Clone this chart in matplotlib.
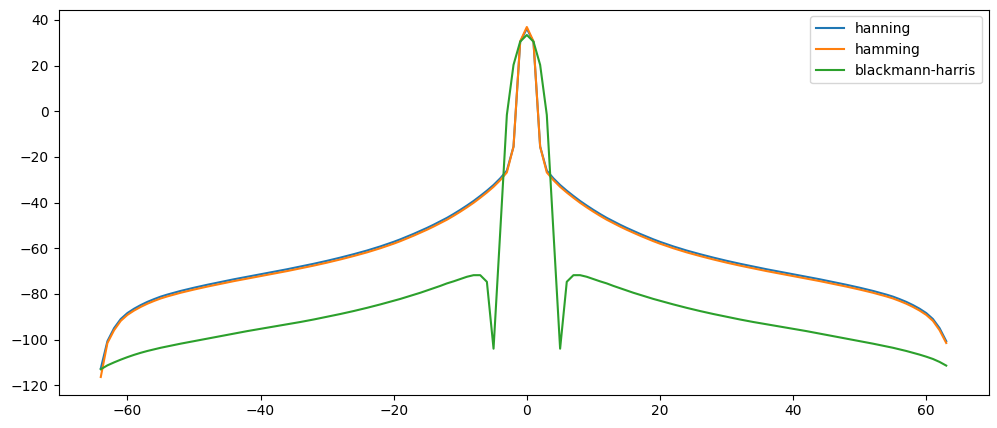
import matplotlib
matplotlib.use("Agg")
import matplotlib.pyplot as plt

# ── Data (dB vs frequency bin) ───────────────────────────────────────────────
bins = [-64, -63, -62, -61, -60, -59, -58, -57, -56, -55, -54, -53, -52,
        -50, -48, -46, -44, -42, -40, -38, -36, -34, -32, -30, -28, -26, -24, -22,
        -20, -19, -18, -17, -16, -15, -14, -13, -12, -11, -10, -9, -8, -7, -6,
        -5, -4, -3, -2, -1,
        0, 1, 2, 3, 4, 5, 6, 7, 8, 9, 10, 11, 12, 13, 14, 15, 16, 17, 18, 19, 20,
        22, 24, 26, 28, 30, 32, 34, 36, 38, 40, 42, 44, 46, 48, 50,
        52, 53, 54, 55, 56, 57, 58, 59, 60, 61, 62, 63]

hanning = [-112.7, -100.7, -95.0, -91.0, -88.4, -86.5, -84.9, -83.5, -82.3, -81.2, -80.3, -79.5, -78.7,
           -77.3, -76.0, -74.8, -73.6, -72.5, -71.4, -70.3, -69.2, -68.0, -66.8, -65.5, -64.1, -62.6, -61.0, -59.2,
           -57.2, -56.1, -54.9, -53.7, -52.4, -51.1, -49.7, -48.2, -46.7, -45.0, -43.2, -41.3, -39.3, -37.1, -34.8,
           -32.3, -29.4, -26.0, -15.5, 30.3,
           36.2, 30.3, -15.5, -26.0, -29.4, -32.3, -34.8, -37.1, -39.3, -41.3, -43.2, -45.0, -46.7, -48.2, -49.7,
           -51.1, -52.4, -53.7, -54.9, -56.1, -57.2,
           -59.2, -61.0, -62.6, -64.1, -65.5, -66.8, -68.0, -69.2, -70.3, -71.4, -72.5, -73.6, -74.8, -76.0, -77.3,
           -78.7, -79.5, -80.3, -81.2, -82.3, -83.5, -84.9, -86.5, -88.4, -91.0, -95.0, -100.7]

hamming = [-116.4, -101.5, -95.9, -91.8, -89.2, -87.3, -85.7, -84.3, -83.1, -82.0, -81.1, -80.3, -79.5,
           -78.1, -76.8, -75.6, -74.4, -73.3, -72.2, -71.1, -70.0, -68.8, -67.6, -66.3, -64.9, -63.4, -61.8, -60.0,
           -58.0, -56.9, -55.7, -54.5, -53.2, -51.9, -50.5, -49.0, -47.5, -45.8, -44.0, -42.1, -40.1, -37.9, -35.6,
           -33.1, -30.2, -26.8, -15.5, 30.6,
           36.9, 30.6, -15.5, -26.8, -30.2, -33.1, -35.6, -37.9, -40.1, -42.1, -44.0, -45.8, -47.5, -49.0, -50.5,
           -51.9, -53.2, -54.5, -55.7, -56.9, -58.0,
           -60.0, -61.8, -63.4, -64.9, -66.3, -67.6, -68.8, -70.0, -71.1, -72.2, -73.3, -74.4, -75.6, -76.8, -78.1,
           -79.5, -80.3, -81.1, -82.0, -83.1, -84.3, -85.7, -87.3, -89.2, -91.8, -95.9, -101.5]

blackmann_harris = [-113.0, -111.3, -110.0, -108.8, -107.7, -106.7, -105.8, -105.0, -104.3, -103.6, -103.0, -102.4, -101.8,
                    -100.7, -99.6, -98.5, -97.4, -96.3, -95.3, -94.3, -93.3, -92.3, -91.2, -90.0, -88.8, -87.5, -86.1, -84.6,
                    -83.0, -82.2, -81.3, -80.4, -79.5, -78.5, -77.5, -76.5, -75.4, -74.5, -73.5, -72.5, -71.8, -71.8, -74.7,
                    -104.0, -53.0, -1.6, 20.3, 30.5,
                    33.4, 30.5, 20.3, -1.6, -53.0, -104.0, -74.7, -71.8, -71.8, -72.5, -73.5, -74.5, -75.4, -76.5, -77.5,
                    -78.5, -79.5, -80.4, -81.3, -82.2, -83.0,
                    -84.6, -86.1, -87.5, -88.8, -90.0, -91.2, -92.3, -93.3, -94.3, -95.3, -96.3, -97.4, -98.5, -99.6, -100.7,
                    -101.8, -102.4, -103.0, -103.6, -104.3, -105.0, -105.8, -106.6, -107.5, -108.5, -109.8, -111.4]

# ── Plot ─────────────────────────────────────────────────────────────────────
fig = plt.figure(figsize=(9.97, 4.28), dpi=100)
ax = fig.add_axes([58.5 / 997, 33.5 / 428, 930 / 997, 385 / 428])

ax.plot(bins, hanning, label="hanning")
ax.plot(bins, hamming, label="hamming")
ax.plot(bins, blackmann_harris, label="blackmann-harris")

ax.legend(loc="upper right")

fig.savefig("out.png", dpi=100)
